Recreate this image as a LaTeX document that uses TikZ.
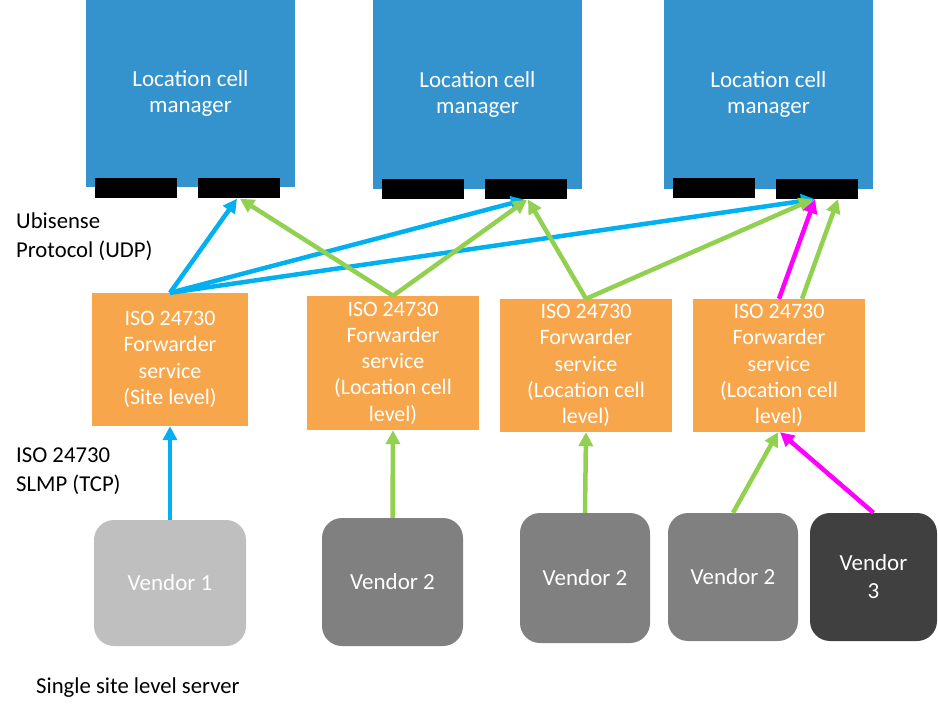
\documentclass[tikz,border=0pt]{standalone}
\usepackage{fontspec}
\setmainfont{Carlito}
\usetikzlibrary{arrows.meta}
\definecolor{lcmblue}{RGB}{52,146,204}
\definecolor{fwdorange}{RGB}{247,166,76}
\definecolor{udpblue}{RGB}{0,176,240}
\definecolor{lgreen}{RGB}{146,208,80}
\definecolor{magen}{RGB}{255,0,255}
\definecolor{vone}{RGB}{191,191,191}
\definecolor{vtwo}{RGB}{128,128,128}
\definecolor{vthree}{RGB}{64,64,64}
\tikzset{
  lcm/.style={fill=lcmblue, minimum width=209pt, inner sep=0pt, text=white, align=center, font=\fontsize{23}{26.5}\selectfont},
  bar/.style={fill=black, minimum width=82pt, minimum height=20pt, inner sep=0pt},
  fwd/.style={fill=fwdorange, inner sep=0pt, text=white, align=center, font=\fontsize{22}{26.3}\selectfont},
  vend/.style={rounded corners=20pt, inner sep=0pt, text=white, align=center, font=\fontsize{23}{28}\selectfont},
  lbl/.style={inner sep=0pt, align=left, font=\fontsize{22.7}{29}\selectfont},
  arr/.style={line width=4.5pt, -{Triangle[length=14pt,width=14pt]}},
}
\begin{document}
\begin{tikzpicture}[x=1pt,y=-1pt]
\useasboundingbox (0,0) rectangle (938,722);
% location cell managers
\node[lcm, minimum height=187pt] (m1) at (190.5,93.5) {Location cell\\manager};
\node[lcm, minimum height=189pt] (m2) at (477.5,94.5) {Location cell\\manager};
\node[lcm, minimum height=189pt] (m3) at (768.5,94.5) {Location cell\\manager};
\node[bar] (b1l) at (136,188) {};
\node[bar] (b1r) at (239,188.5) {};
\node[bar] (b2l) at (423,189) {};
\node[bar] (b2r) at (526,189.5) {};
\node[bar] (b3l) at (714,188.5) {};
\node[bar] (b3r) at (817,189) {};
% forwarders
\node[fwd, minimum width=156pt, minimum height=133pt] (fa) at (170,359.5) {ISO 24730\\Forwarder\\service\\(Site level)};
\node[fwd, minimum width=172pt, minimum height=134pt] (fb) at (393,363) {ISO 24730\\Forwarder\\service\\(Location cell\\level)};
\node[fwd, minimum width=172pt, minimum height=133pt] (fc) at (586,365.5) {ISO 24730\\Forwarder\\service\\(Location cell\\level)};
\node[fwd, minimum width=172pt, minimum height=133pt] (fd) at (779,365.5) {ISO 24730\\Forwarder\\service\\(Location cell\\level)};
% vendors
\node[vend, fill=vone, minimum width=152pt, minimum height=126pt] (v1) at (170,583) {Vendor 1};
\node[vend, fill=vtwo, minimum width=141pt, minimum height=128pt] (v2a) at (392.5,582) {Vendor 2};
\node[vend, fill=vtwo, minimum width=130pt, minimum height=130pt] (v2b) at (585,578) {Vendor 2};
\node[vend, fill=vtwo, minimum width=130pt, minimum height=128pt] (v2c) at (733,577) {Vendor 2};
\node[vend, fill=vthree, minimum width=127pt, minimum height=128pt] (v3) at (873.5,577) {Vendor\\3};
% labels
\node[lbl, anchor=base west] (l1) at (16,258) {Ubisense\\Protocol (UDP)};
\node[lbl, anchor=base west] (l2) at (16,491) {ISO 24730\\SLMP (TCP)};
\node[lbl, anchor=base west] (l3) at (36,693) {Single site level server};
% upper connectors
\draw[arr, udpblue] (fa.north) -- ([xshift=-2pt]b1r.south);
\draw[arr, udpblue] (fa.north) -- ([xshift=-1pt]b2r.south);
\draw[arr, udpblue] (fa.north) -- ([xshift=-2pt]b3r.south);
\draw[arr, lgreen] (fb.north) -- ([xshift=1pt]b1r.south);
\draw[arr, lgreen] (fb.north) -- ([xshift=1pt]b2r.south);
\draw[arr, lgreen] (fc.north) -- ([xshift=2pt]b2r.south);
\draw[arr, lgreen] (fc.north) -- ([xshift=-4pt]b3r.south);
\draw[arr, magen] (fd.north) -- ([xshift=-2pt]b3r.south);
\draw[arr, lgreen] ([xshift=23pt]fd.north) -- ([xshift=21pt]b3r.south);
% lower connectors
\draw[arr, udpblue] (v1.north) -- (fa.south);
\draw[arr, lgreen] (v2a.north) -- (fb.south);
\draw[arr, lgreen] (v2b.north) -- (fc.south);
\draw[arr, lgreen] (v2c.north) -- ([xshift=-1pt]fd.south);
\draw[arr, magen] (v3.north) -- ([xshift=1pt]fd.south);
\end{tikzpicture}
\end{document}
